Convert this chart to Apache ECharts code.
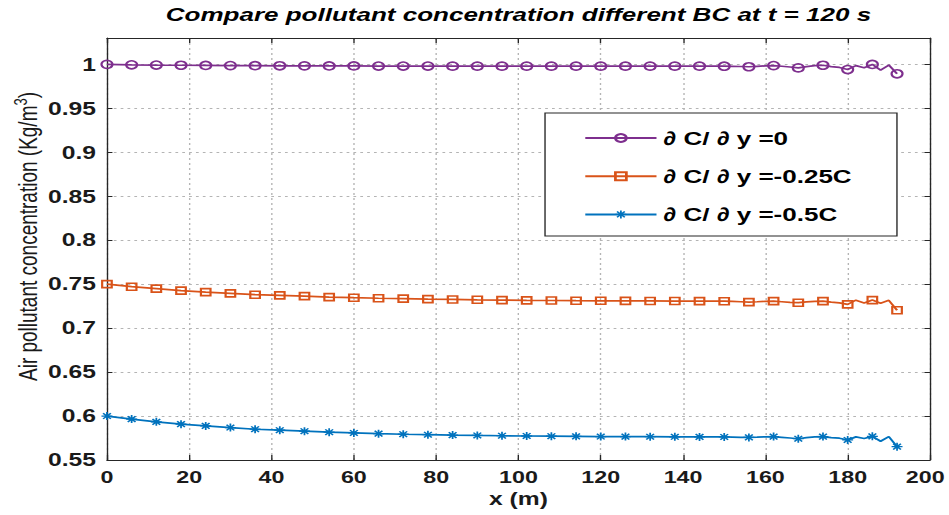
<!DOCTYPE html>
<html>
<head>
<meta charset="utf-8">
<script src="https://cdn.jsdelivr.net/npm/echarts@6.0.0/dist/echarts.min.js"></script>
<style>
  html, body { margin: 0; padding: 0; background: #ffffff; overflow: hidden; }
  #chart { width: 693px; height: 515px; transform: scaleX(1.36941); transform-origin: 0 0; }
</style>
</head>
<body>
<div id="chart"></div>
<script>
// ---------------- data ----------------
const titleText = 'Compare pollutant concentration different BC at t = 120 s';
const seriesNames = ['\u2202 C/ \u2202 y =0', '\u2202 C/ \u2202 y =-0.25C', '\u2202 C/ \u2202 y =-0.5C'];
const xTicks = [0, 20, 40, 60, 80, 100, 120, 140, 160, 180, 200];
const yTicks = [0.55, 0.6, 0.65, 0.7, 0.75, 0.8, 0.85, 0.9, 0.95, 1];
const yTop = 1.03;

const xMeters = [0, 6, 12, 18, 24, 30, 36, 42, 48, 54, 60, 66, 72, 78, 84, 90, 96, 102, 108, 114, 120, 126, 132, 138, 144, 150,
  152, 154, 156, 158, 160, 162, 164, 166, 168, 170, 172, 174, 176, 178, 180, 182, 184, 186, 188, 190, 192];

const cZero = [1.0000, 0.9995, 0.9992, 0.9990, 0.9988, 0.9986, 0.9985, 0.9984, 0.9983, 0.9982, 0.9982, 0.9981, 0.9981, 0.9981,
  0.9980, 0.9980, 0.9980, 0.9980, 0.9980, 0.9980, 0.9980, 0.9980, 0.9980, 0.9980, 0.9980, 0.9979,
  0.9978, 0.9976, 0.9973, 0.9978, 0.9983, 0.9986, 0.9979, 0.9970, 0.9960, 0.9975, 0.9985, 0.9990, 0.9975, 0.9965,
  0.9941, 0.9986, 0.9962, 0.9999, 0.9935, 0.9992, 0.9893];

const cQuarter = [0.7500, 0.7471, 0.7449, 0.7426, 0.7410, 0.7395, 0.7380, 0.7372, 0.7364, 0.7353, 0.7346, 0.7340, 0.7335, 0.7330,
  0.7326, 0.7322, 0.7319, 0.7316, 0.7314, 0.7312, 0.7311, 0.7310, 0.7309, 0.7308, 0.7307, 0.7306,
  0.7304, 0.7300, 0.7296, 0.7300, 0.7305, 0.7307, 0.7300, 0.7293, 0.7289, 0.7298, 0.7304, 0.7307, 0.7296, 0.7288,
  0.7270, 0.7318, 0.7285, 0.7319, 0.7283, 0.7316, 0.7204];

const cHalf = [0.6000, 0.5965, 0.5934, 0.5908, 0.5888, 0.5869, 0.5850, 0.5839, 0.5828, 0.5816, 0.5808, 0.5800, 0.5793, 0.5788,
  0.5783, 0.5779, 0.5776, 0.5773, 0.5771, 0.5769, 0.5767, 0.5766, 0.5765, 0.5764, 0.5763, 0.5762,
  0.5760, 0.5758, 0.5757, 0.5760, 0.5764, 0.5766, 0.5758, 0.5750, 0.5742, 0.5755, 0.5763, 0.5766, 0.5755, 0.5748,
  0.5728, 0.5763, 0.5745, 0.5769, 0.5713, 0.5766, 0.5652];

const markerEvery = 6;
// ---------------------------------------

const FONT = "'Liberation Sans', Arial, Helvetica, sans-serif";
const AX = '#262626';
const asterisk = 'path://M4.2 0h1.6v10h-1.6z M0 4.2h10v1.6h-10z M2.03 0.89L9.11 7.97L7.97 9.11L0.89 2.03Z M9.11 2.03L2.03 9.11L0.89 7.97L7.97 0.89Z';

function build(vals) {
  return xMeters.map((x, i) => {
    const item = { value: [x, vals[i]] };
    if (x % markerEvery !== 0) item.symbol = 'none';
    return item;
  });
}

const chart = echarts.init(document.getElementById('chart'), null, { renderer: 'svg', width: 693, height: 515 });

const common = {
  type: 'line',
  xAxisIndex: 0, yAxisIndex: 0,
  smooth: false,
  animation: false,
  emphasis: { disabled: true },
  z: 3
};

const xLast = xTicks[xTicks.length - 1];
const labelStyle = { fontFamily: FONT, fontSize: 17, fontWeight: 'bold', color: '#1a1a1a' };

const option = {
  animation: false,
  backgroundColor: '#ffffff',
  textStyle: { fontFamily: FONT },
  grid: { left: 78.1, right: 13.9, top: 38, bottom: 55, containLabel: false, outerBoundsMode: 'none' },
  graphic: [
    { type: 'text', x: 378.6, y: 5, z: 10,
      style: { text: titleText, font: "italic bold 19px 'Liberation Sans', Arial, sans-serif", fill: '#000', textAlign: 'center', textVerticalAlign: 'top' } },
    { type: 'rect', z: 5, shape: { x: 398, y: 113, width: 257, height: 123 },
      style: { fill: '#ffffff', stroke: AX, lineWidth: 1 } }
  ],
  legend: {
    orient: 'vertical',
    left: 426.4, top: 128.5,
    padding: 0,
    itemWidth: 52, itemHeight: 10, itemGap: 19.2,
    selectedMode: false,
    z: 8,
    textStyle: { fontFamily: FONT, fontSize: 19, fontWeight: 'bold', color: '#000', lineHeight: 18 },
    data: seriesNames
  },
  xAxis: [
    { type: 'value', min: xTicks[0], max: xLast, interval: xTicks[1] - xTicks[0],
      name: 'x (m)', nameLocation: 'middle', nameGap: 30, nameMoveOverlap: false,
      nameTextStyle: { fontFamily: FONT, fontSize: 18, fontWeight: 'bold', color: '#1a1a1a' },
      axisLine: { show: true, onZero: false, lineStyle: { color: AX, width: 1 } },
      axisTick: { show: true, inside: true, length: 5, lineStyle: { color: AX } },
      axisLabel: Object.assign({ margin: 9,
        formatter: v => (v === xLast ? '{e|' + v + '}' : String(v)),
        rich: { e: Object.assign({ padding: [0, 7, 0, 0] }, labelStyle) } }, labelStyle),
      splitLine: { show: true, lineStyle: { color: '#b4b4b4', type: [2, 3], width: 1 } } },
    { type: 'value', position: 'top', min: xTicks[0], max: xLast, interval: xTicks[1] - xTicks[0],
      axisLine: { show: true, onZero: false, lineStyle: { color: AX, width: 1 } },
      axisTick: { show: true, inside: true, length: 5, lineStyle: { color: AX } },
      axisLabel: { show: false }, splitLine: { show: false } }
  ],
  yAxis: [
    { type: 'value', min: yTicks[0], max: yTop, interval: 0.05,
      name: 'Air pollutant concentration (Kg/m{sup|3})', nameLocation: 'middle', nameGap: 45.5, nameRotate: 90,
      nameMoveOverlap: false,
      nameTextStyle: { fontFamily: FONT, fontSize: 19, fontWeight: 'normal', color: '#1a1a1a', lineHeight: 24,
        padding: [0, 0, 0, 25],
        rich: { sup: { fontFamily: FONT, fontSize: 13, verticalAlign: 'top', lineHeight: 12, color: '#1a1a1a' } } },
      axisLine: { show: true, onZero: false, lineStyle: { color: AX, width: 1 } },
      axisTick: { show: true, inside: true, length: 4, lineStyle: { color: AX } },
      axisLabel: { margin: 8, showMaxLabel: false, fontFamily: FONT, fontSize: 18, fontWeight: 'bold', color: '#1a1a1a' },
      splitLine: { show: true, lineStyle: { color: '#b4b4b4', type: [2, 3], width: 1 } } },
    { type: 'value', position: 'right', min: yTicks[0], max: yTop, interval: 0.05,
      axisLine: { show: true, onZero: false, lineStyle: { color: AX, width: 1 } },
      axisTick: { show: true, inside: true, length: 4, lineStyle: { color: AX } },
      axisLabel: { show: false }, splitLine: { show: false } }
  ],
  series: [
    Object.assign({}, common, {
      name: seriesNames[0], data: build(cZero),
      symbol: 'circle', symbolSize: 8,
      lineStyle: { color: '#7E2F8E', width: 1.7 },
      itemStyle: { color: 'rgba(255,255,255,0)', borderColor: '#7E2F8E', borderWidth: 1.6 }
    }),
    Object.assign({}, common, {
      name: seriesNames[1], data: build(cQuarter),
      symbol: 'rect', symbolSize: 7,
      lineStyle: { color: '#D95319', width: 1.7 },
      itemStyle: { color: 'rgba(255,255,255,0)', borderColor: '#D95319', borderWidth: 1.6 }
    }),
    Object.assign({}, common, {
      name: seriesNames[2], data: build(cHalf),
      symbol: asterisk, symbolSize: 8,
      lineStyle: { color: '#0072BD', width: 1.7 },
      itemStyle: { color: '#0072BD', borderColor: '#0072BD', borderWidth: 0 }
    })
  ]
};

chart.setOption(option);
</script>
</body>
</html>
